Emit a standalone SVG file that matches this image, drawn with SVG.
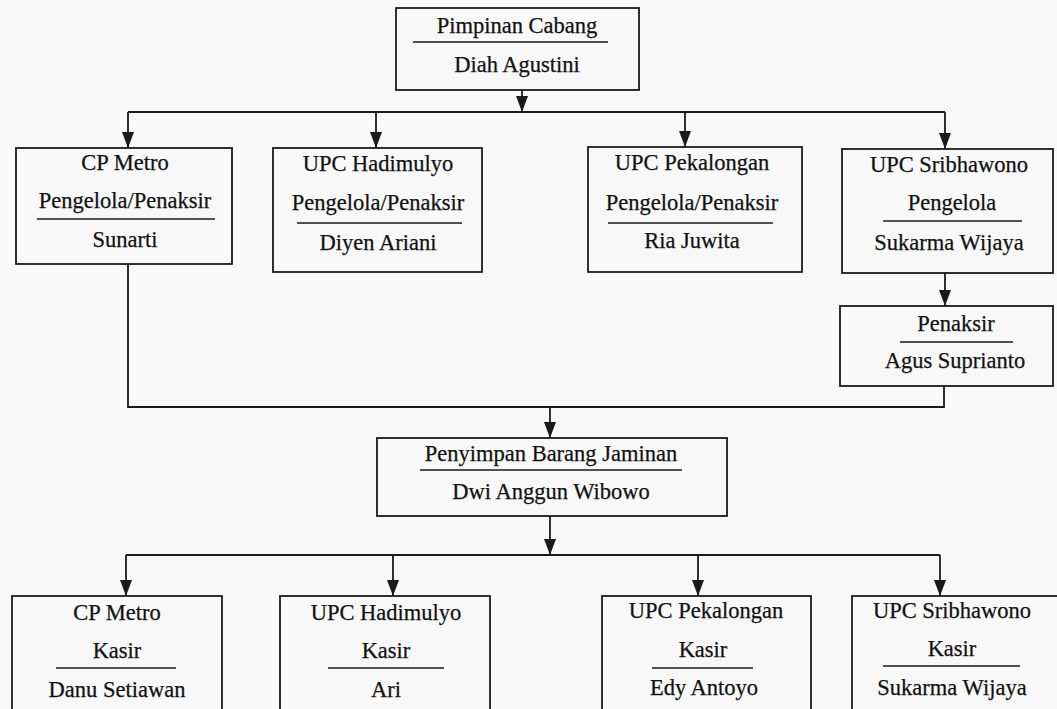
<svg xmlns="http://www.w3.org/2000/svg" width="1057" height="709" viewBox="0 0 1057 709">
<style>
.box{fill:none;stroke:#1a1a1a;stroke-width:1.8}
.ul{stroke:#1a1a1a;stroke-width:1.6}
.ln{fill:none;stroke:#1a1a1a;stroke-width:1.8}
text{font-family:"Liberation Serif","Times New Roman",serif;font-size:22.5px;fill:#111;stroke:#111;stroke-width:0.25;text-anchor:middle}
</style>
<defs>
<marker id="ah" viewBox="0 -6 16 12" refX="16" refY="0" markerWidth="16" markerHeight="12" markerUnits="userSpaceOnUse" orient="auto">
<path d="M0,-6 L16,0 L0,6 z" fill="#1a1a1a"/>
</marker>
</defs>
<rect x="0" y="0" width="1057" height="709" fill="#f8f8f8"/>

<g id="connectors">
<line class="ln" x1="522" y1="90" x2="522" y2="112" marker-end="url(#ah)"/>
<line class="ln" x1="128" y1="112" x2="945" y2="112"/>
<line class="ln" x1="128" y1="112" x2="128" y2="148" marker-end="url(#ah)"/>
<line class="ln" x1="376" y1="112" x2="376" y2="148" marker-end="url(#ah)"/>
<line class="ln" x1="685" y1="112" x2="685" y2="147" marker-end="url(#ah)"/>
<line class="ln" x1="945" y1="112" x2="945" y2="149" marker-end="url(#ah)"/>
<line class="ln" x1="945" y1="273" x2="945" y2="306" marker-end="url(#ah)"/>
<polyline class="ln" points="128,264 128,407 944,407 944,386"/>
<line class="ln" x1="550" y1="407" x2="550" y2="438" marker-end="url(#ah)"/>
<line class="ln" x1="550" y1="516" x2="550" y2="555" marker-end="url(#ah)"/>
<line class="ln" x1="126" y1="555" x2="940" y2="555"/>
<line class="ln" x1="126" y1="555" x2="126" y2="596" marker-end="url(#ah)"/>
<line class="ln" x1="393" y1="555" x2="393" y2="596" marker-end="url(#ah)"/>
<line class="ln" x1="698" y1="555" x2="698" y2="596" marker-end="url(#ah)"/>
<line class="ln" x1="940" y1="555" x2="940" y2="596" marker-end="url(#ah)"/>
</g>

<g id="pimpinan">
<rect class="box" x="396" y="8" width="243" height="82"/>
<text x="517" y="33">Pimpinan Cabang</text>
<line class="ul" x1="413" y1="42" x2="608" y2="42"/>
<text x="517" y="72">Diah Agustini</text>
</g>

<g id="cp-metro-pengelola">
<rect class="box" x="16" y="148" width="216" height="116"/>
<text x="125" y="170">CP Metro</text>
<text x="125" y="208">Pengelola/Penaksir</text>
<line class="ul" x1="37" y1="219" x2="215" y2="219"/>
<text x="125" y="247">Sunarti</text>
</g>

<g id="upc-hadimulyo-pengelola">
<rect class="box" x="273" y="148" width="209" height="124"/>
<text x="378" y="171">UPC Hadimulyo</text>
<text x="378" y="210">Pengelola/Penaksir</text>
<line class="ul" x1="297" y1="223" x2="462" y2="223"/>
<text x="378" y="250">Diyen Ariani</text>
</g>

<g id="upc-pekalongan-pengelola">
<rect class="box" x="588" y="147" width="214" height="125"/>
<text x="692" y="170">UPC Pekalongan</text>
<text x="692" y="210">Pengelola/Penaksir</text>
<line class="ul" x1="608" y1="223" x2="773" y2="223"/>
<text x="692" y="248">Ria Juwita</text>
</g>

<g id="upc-sribhawono-pengelola">
<rect class="box" x="842" y="149" width="211" height="124"/>
<text x="949" y="172">UPC Sribhawono</text>
<text x="952" y="210">Pengelola</text>
<line class="ul" x1="883" y1="221" x2="1022" y2="221"/>
<text x="949" y="250">Sukarma Wijaya</text>
</g>

<g id="penaksir">
<rect class="box" x="840" y="306" width="213" height="80"/>
<text x="956" y="331">Penaksir</text>
<line class="ul" x1="900" y1="342" x2="1013" y2="342"/>
<text x="955" y="368">Agus Suprianto</text>
</g>

<g id="penyimpan">
<rect class="box" x="377" y="438" width="350" height="78"/>
<text x="551" y="461">Penyimpan Barang Jaminan</text>
<line class="ul" x1="420" y1="470" x2="682" y2="470"/>
<text x="551" y="499">Dwi Anggun Wibowo</text>
</g>

<g id="cp-metro-kasir">
<rect class="box" x="12" y="596" width="210" height="130"/>
<text x="117" y="620">CP Metro</text>
<text x="117" y="658">Kasir</text>
<line class="ul" x1="56" y1="668" x2="176" y2="668"/>
<text x="117" y="697">Danu Setiawan</text>
</g>

<g id="upc-hadimulyo-kasir">
<rect class="box" x="280" y="596" width="210" height="130"/>
<text x="386" y="620">UPC Hadimulyo</text>
<text x="386" y="658">Kasir</text>
<line class="ul" x1="328" y1="668" x2="444" y2="668"/>
<text x="386" y="697">Ari</text>
</g>

<g id="upc-pekalongan-kasir">
<rect class="box" x="602" y="596" width="209" height="130"/>
<text x="706" y="618">UPC Pekalongan</text>
<text x="703" y="657">Kasir</text>
<line class="ul" x1="652" y1="668" x2="753" y2="668"/>
<text x="704" y="695">Edy Antoyo</text>
</g>

<g id="upc-sribhawono-kasir">
<rect class="box" x="852" y="596" width="220" height="130"/>
<text x="952" y="618">UPC Sribhawono</text>
<text x="952" y="656">Kasir</text>
<line class="ul" x1="883" y1="666" x2="1020" y2="666"/>
<text x="952" y="695">Sukarma Wijaya</text>
</g>
</svg>
